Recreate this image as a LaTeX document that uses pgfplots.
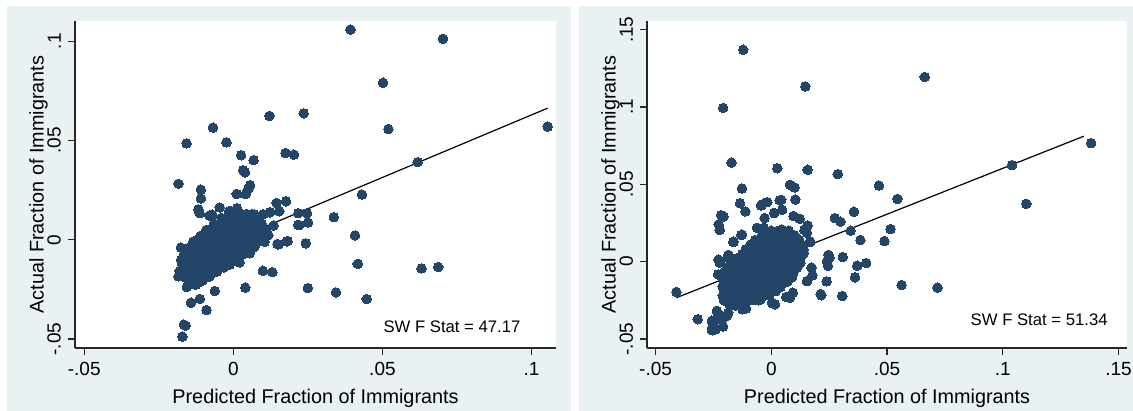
\documentclass[border=0pt]{standalone}
\usepackage{pgfplots}
\pgfplotsset{compat=1.18}
\usepackage{fontspec}
\setmainfont{Liberation Sans}
\definecolor{navyc}{RGB}{35,69,104}
\definecolor{bgc}{RGB}{233,241,243}
\pgfplotsset{stataaxis/.style={
  scale only axis,
  axis lines=left,
  axis line style={-, line width=0.6pt, black!85},
  tick style={line width=0.6pt, black!85},
  tick align=outside,
  major tick length=3.5pt,
  axis background/.style={fill=white},
  every tick label/.append style={font=\fontsize{9.5}{11}\selectfont},
  yticklabel style={rotate=90, anchor=south},
  label style={font=\fontsize{9.9}{12}\selectfont},
  xlabel={Predicted Fraction of Immigrants},
  ylabel={Actual Fraction of Immigrants},
  ylabel style={yshift=-7pt},
},
dots/.style={only marks, mark=*, mark size=2.4pt, mark options={fill=navyc, draw=navyc, line width=0pt}},
fitline/.style={no marks, black, line width=0.6pt}}
\begin{document}
\begin{tikzpicture}
\useasboundingbox (0,0) rectangle (566.5pt,205.5pt);
\fill[bgc] (3.5pt,0pt) rectangle (285.5pt,202.5pt);
\fill[bgc] (289.5pt,0pt) rectangle (566.5pt,202.5pt);
% ---------------- left panel
\begin{axis}[stataaxis, at={(37.5pt,31.5pt)}, anchor=south west,
  width=240.5pt, height=163.5pt,
  xmin=-0.0531, xmax=0.1082, ymin=-0.0545, ymax=0.1102,
  xtick={-0.05,0,0.05,0.1}, xticklabels={-.05,0,.05,.1},
  ytick={-0.05,0,0.05,0.1}, yticklabels={-.05,0,.05,.1}]
\addplot[dots] coordinates {
(0.0393,0.1058) (0.0703,0.1012) (0.0502,0.0791) (0.0520,0.0558) (0.1054,0.0570)
(0.0236,0.0637) (0.0121,0.0624) (-0.0068,0.0565) (-0.0157,0.0486) (-0.0023,0.0491)
(0.0026,0.0426) (0.0068,0.0401) (0.0175,0.0437) (0.0203,0.0429) (0.0618,0.0391)
(0.0033,0.0350) (0.0039,0.0340) (-0.0184,0.0282) (0.0056,0.0275) (0.0050,0.0255)
(0.0041,0.0230) (0.0011,0.0231) (-0.0109,0.0253) (-0.0109,0.0208) (0.0431,0.0228)
(0.0177,0.0194) (0.0145,0.0186) (-0.0046,0.0163) (-0.0117,0.0154) (-0.0113,0.0134)
(-0.0071,0.0126) (0.0337,0.0114) (0.0218,0.0134) (0.0247,0.0134) (0.0124,0.0139)
(0.0154,0.0144) (0.0101,0.0129) (0.0221,0.0074) (0.0250,0.0087) (0.0135,0.0072)
(0.0117,0.0023) (0.0101,0.0028) (0.0408,0.0022) (0.0151,-0.0023) (0.0182,-0.0007)
(0.0243,-0.0018) (0.0417,-0.0121) (0.0099,-0.0156) (0.0131,-0.0163) (0.0631,-0.0144)
(0.0687,-0.0137) (0.0250,-0.0243) (0.0344,-0.0265) (0.0447,-0.0298) (0.0040,-0.0241)
(-0.0062,-0.0258) (-0.0142,-0.0317) (-0.0112,-0.0298) (-0.0090,-0.0354) (-0.0166,-0.0427)
(-0.0160,-0.0432) (-0.0171,-0.0488) (-0.0184,-0.0184) (-0.0156,-0.0238) (-0.0176,-0.0039)
(-0.0170,-0.0092) (-0.0172,-0.0117) (-0.0126,-0.0226) (-0.0104,-0.0206) (-0.0068,-0.0164)
(-0.0032,-0.0139) (0.0021,-0.0114) (0.0048,-0.0040) (-0.0117,0.0005) (-0.0089,0.0050)
(-0.0015,0.0141) (0.0010,0.0141) (0.0063,0.0129) (-0.0080,0.0122) (-0.0010,0.0145)
(0.0070,0.0128) (0.0123,0.0138) (0.0217,0.0075) (0.0148,-0.0022) (0.0179,-0.0008)
(-0.0180,-0.0157) (-0.0166,-0.0165) (-0.0155,-0.0235) (0.0012,0.0159)
(-0.0140,-0.0220) (-0.0118,-0.0215)
(-0.0160,-0.0190) (-0.0140,-0.0188) (-0.0120,-0.0192) (-0.0100,-0.0190) (-0.0080,-0.0185)
(-0.0175,-0.0160) (-0.0155,-0.0162) (-0.0135,-0.0158) (-0.0115,-0.0160) (-0.0095,-0.0162) (-0.0075,-0.0158) (-0.0055,-0.0160)
(-0.0170,-0.0130) (-0.0150,-0.0132) (-0.0130,-0.0128) (-0.0110,-0.0130) (-0.0090,-0.0132) (-0.0070,-0.0128) (-0.0050,-0.0130) (-0.0030,-0.0132) (-0.0012,-0.0125)
(-0.0175,-0.0100) (-0.0155,-0.0102) (-0.0135,-0.0098) (-0.0115,-0.0100) (-0.0095,-0.0102) (-0.0075,-0.0098) (-0.0055,-0.0100) (-0.0035,-0.0102) (-0.0015,-0.0098) (0.0005,-0.0100) (0.0020,-0.0095)
(-0.0165,-0.0070) (-0.0145,-0.0072) (-0.0125,-0.0068) (-0.0105,-0.0070) (-0.0085,-0.0072) (-0.0065,-0.0068) (-0.0045,-0.0070) (-0.0025,-0.0072) (-0.0005,-0.0068) (0.0015,-0.0070) (0.0035,-0.0072) (0.0055,-0.0068)
(-0.0150,-0.0040) (-0.0130,-0.0042) (-0.0110,-0.0038) (-0.0090,-0.0040) (-0.0070,-0.0042) (-0.0050,-0.0038) (-0.0030,-0.0040) (-0.0010,-0.0042) (0.0010,-0.0038) (0.0030,-0.0040) (0.0050,-0.0042) (0.0070,-0.0038)
(-0.0135,-0.0010) (-0.0115,-0.0012) (-0.0095,-0.0008) (-0.0075,-0.0010) (-0.0055,-0.0012) (-0.0035,-0.0008) (-0.0015,-0.0010) (0.0005,-0.0012) (0.0025,-0.0008) (0.0045,-0.0010) (0.0065,-0.0012) (0.0085,-0.0008) (0.0105,-0.0010)
(-0.0110,0.0020) (-0.0090,0.0018) (-0.0070,0.0022) (-0.0050,0.0020) (-0.0030,0.0018) (-0.0010,0.0022) (0.0010,0.0020) (0.0030,0.0018) (0.0050,0.0022) (0.0070,0.0020) (0.0090,0.0018) (0.0110,0.0022)
(-0.0090,0.0050) (-0.0070,0.0048) (-0.0050,0.0052) (-0.0030,0.0050) (-0.0010,0.0048) (0.0010,0.0052) (0.0030,0.0050) (0.0050,0.0048) (0.0070,0.0052) (0.0090,0.0050) (0.0110,0.0048)
(-0.0065,0.0080) (-0.0045,0.0078) (-0.0025,0.0082) (-0.0005,0.0080) (0.0015,0.0078) (0.0035,0.0082) (0.0055,0.0080) (0.0075,0.0078) (0.0095,0.0082)
(-0.0040,0.0110) (-0.0020,0.0108) (0.0000,0.0112) (0.0020,0.0110) (0.0040,0.0108) (0.0060,0.0112) (0.0080,0.0110)
(-0.0005,0.0132) (0.0020,0.0135) (0.0045,0.0130)
};
\addplot[fitline] coordinates {(-0.0184,-0.0117) (0.1054,0.0663)};
\node[anchor=base east, font=\fontsize{8.35}{10}\selectfont, inner sep=0pt] at (axis cs:0.0964,-0.0468) {SW F Stat = 47.17};
\end{axis}
% ---------------- right panel
\begin{axis}[stataaxis, at={(323.5pt,31.5pt)}, anchor=south west,
  width=240pt, height=163.5pt,
  xmin=-0.0537, xmax=0.1537, ymin=-0.0558, ymax=0.1556,
  xtick={-0.05,0,0.05,0.1,0.15}, xticklabels={-.05,0,.05,.1,.15},
  ytick={-0.05,0,0.05,0.1,0.15}, yticklabels={-.05,0,.05,.1,.15}]
\addplot[dots] coordinates {
(-0.0121,0.1370) (0.0147,0.1133) (0.0663,0.1194) (-0.0208,0.0994) (-0.0172,0.0641)
(0.0026,0.0604) (0.0157,0.0594) (0.0287,0.0566) (0.0465,0.0492) (0.0545,0.0406)
(0.1040,0.0624) (0.1382,0.0766) (0.1102,0.0374) (-0.0127,0.0473) (-0.0135,0.0378)
(-0.0112,0.0325) (-0.0217,0.0301) (-0.0206,0.0292) (-0.0227,0.0241) (-0.0223,0.0204)
(-0.0164,0.0127) (-0.0130,0.0172) (-0.0045,0.0363) (-0.0017,0.0385) (0.0043,0.0400)
(0.0047,0.0335) (0.0012,0.0314) (-0.0029,0.0282) (0.0081,0.0497) (0.0101,0.0480)
(0.0104,0.0402) (0.0096,0.0295) (0.0123,0.0277) (0.0157,0.0234) (0.0143,0.0204)
(0.0275,0.0282) (0.0299,0.0258) (0.0357,0.0323) (0.0343,0.0200) (0.0385,0.0140)
(0.0515,0.0211) (0.0489,0.0133) (0.0168,0.0127) (0.0251,0.0026) (0.0309,0.0030)
(0.0245,-0.0028) (0.0371,-0.0026) (0.0410,-0.0009) (0.0362,-0.0101) (0.0563,-0.0151)
(0.0718,-0.0168) (0.0239,-0.0127) (0.0213,-0.0209) (0.0216,-0.0217) (0.0307,-0.0222)
(0.0174,-0.0039) (0.0178,-0.0088) (0.0155,-0.0125) (0.0064,-0.0228) (0.0093,-0.0200)
(0.0008,-0.0271) (0.0016,-0.0275) (-0.0047,-0.0243) (-0.0410,-0.0196) (-0.0318,-0.0372)
(-0.0256,-0.0443) (-0.0240,-0.0437) (-0.0209,-0.0419) (-0.0233,-0.0372) (-0.0209,-0.0355)
(-0.0186,-0.0329) (-0.0223,-0.0006) (-0.0189,0.0028) (-0.0230,-0.0082) (-0.0124,-0.0308)
(-0.0109,-0.0303) (-0.0040,0.0370) (0.0036,0.0397) (0.0013,0.0316) (-0.0163,0.0129)
(-0.0127,0.0175) (-0.0228,0.0013) (-0.0185,0.0044) (0.0247,0.0044) (0.0240,0.0001)
(0.0154,0.0186) (0.0168,0.0131) (0.0154,-0.0126) (0.0081,-0.0234) (0.0003,-0.0266)
(-0.0235,-0.0318) (-0.0257,-0.0382) (-0.0213,-0.0372) (-0.0192,-0.0351) (-0.0257,-0.0437)
(-0.0091,-0.0212) (-0.0062,0.0219) (-0.0033,0.0219) (0.0045,0.0208)
(-0.0180,-0.0280) (-0.0155,-0.0283) (-0.0130,-0.0278)
(-0.0205,-0.0250) (-0.0180,-0.0253) (-0.0155,-0.0248) (-0.0130,-0.0250) (-0.0105,-0.0253) (-0.0080,-0.0248) (-0.0055,-0.0250)
(-0.0210,-0.0220) (-0.0185,-0.0223) (-0.0160,-0.0218) (-0.0135,-0.0220) (-0.0110,-0.0223) (-0.0085,-0.0218) (-0.0060,-0.0220) (-0.0035,-0.0223) (-0.0010,-0.0218)
(-0.0205,-0.0190) (-0.0180,-0.0193) (-0.0155,-0.0188) (-0.0130,-0.0190) (-0.0105,-0.0193) (-0.0080,-0.0188) (-0.0055,-0.0190) (-0.0030,-0.0193) (-0.0005,-0.0188) (0.0020,-0.0190)
(-0.0210,-0.0160) (-0.0185,-0.0163) (-0.0160,-0.0158) (-0.0135,-0.0160) (-0.0110,-0.0163) (-0.0085,-0.0158) (-0.0060,-0.0160) (-0.0035,-0.0163) (-0.0010,-0.0158) (0.0015,-0.0160) (0.0040,-0.0163)
(-0.0205,-0.0130) (-0.0180,-0.0133) (-0.0155,-0.0128) (-0.0130,-0.0130) (-0.0105,-0.0133) (-0.0080,-0.0128) (-0.0055,-0.0130) (-0.0030,-0.0133) (-0.0005,-0.0128) (0.0020,-0.0130) (0.0045,-0.0133) (0.0070,-0.0128)
(-0.0210,-0.0100) (-0.0185,-0.0103) (-0.0160,-0.0098) (-0.0135,-0.0100) (-0.0110,-0.0103) (-0.0085,-0.0098) (-0.0060,-0.0100) (-0.0035,-0.0103) (-0.0010,-0.0098) (0.0015,-0.0100) (0.0040,-0.0103) (0.0065,-0.0098) (0.0090,-0.0100)
(-0.0205,-0.0070) (-0.0180,-0.0073) (-0.0155,-0.0068) (-0.0130,-0.0070) (-0.0105,-0.0073) (-0.0080,-0.0068) (-0.0055,-0.0070) (-0.0030,-0.0073) (-0.0005,-0.0068) (0.0020,-0.0070) (0.0045,-0.0073) (0.0070,-0.0068) (0.0095,-0.0070)
(-0.0190,-0.0040) (-0.0165,-0.0043) (-0.0140,-0.0038) (-0.0115,-0.0040) (-0.0090,-0.0043) (-0.0065,-0.0038) (-0.0040,-0.0040) (-0.0015,-0.0043) (0.0010,-0.0038) (0.0035,-0.0040) (0.0060,-0.0043) (0.0085,-0.0038) (0.0110,-0.0040)
(-0.0175,-0.0010) (-0.0150,-0.0013) (-0.0125,-0.0008) (-0.0100,-0.0010) (-0.0075,-0.0013) (-0.0050,-0.0008) (-0.0025,-0.0010) (0.0000,-0.0013) (0.0025,-0.0008) (0.0050,-0.0010) (0.0075,-0.0013) (0.0100,-0.0008) (0.0125,-0.0010)
(-0.0150,0.0020) (-0.0125,0.0017) (-0.0100,0.0022) (-0.0075,0.0020) (-0.0050,0.0017) (-0.0025,0.0022) (0.0000,0.0020) (0.0025,0.0017) (0.0050,0.0022) (0.0075,0.0020) (0.0100,0.0017) (0.0125,0.0022)
(-0.0125,0.0050) (-0.0100,0.0047) (-0.0075,0.0052) (-0.0050,0.0050) (-0.0025,0.0047) (0.0000,0.0052) (0.0025,0.0050) (0.0050,0.0047) (0.0075,0.0052) (0.0100,0.0050) (0.0125,0.0047) (0.0140,0.0055)
(-0.0110,0.0080) (-0.0085,0.0077) (-0.0060,0.0082) (-0.0035,0.0080) (-0.0010,0.0077) (0.0015,0.0082) (0.0040,0.0080) (0.0065,0.0077) (0.0090,0.0082) (0.0115,0.0080) (0.0140,0.0077)
(-0.0090,0.0110) (-0.0065,0.0107) (-0.0040,0.0112) (-0.0015,0.0110) (0.0010,0.0107) (0.0035,0.0112) (0.0060,0.0110) (0.0085,0.0107) (0.0110,0.0112) (0.0130,0.0110)
(-0.0070,0.0140) (-0.0045,0.0137) (-0.0020,0.0142) (0.0005,0.0140) (0.0030,0.0137) (0.0055,0.0142) (0.0080,0.0140) (0.0105,0.0137) (0.0120,0.0142)
(-0.0040,0.0170) (-0.0015,0.0167) (0.0010,0.0172) (0.0035,0.0170) (0.0060,0.0167) (0.0085,0.0172) (0.0100,0.0170)
(0.0000,0.0200) (0.0025,0.0197) (0.0050,0.0202) (0.0075,0.0200)
};
\addplot[fitline] coordinates {(-0.0410,-0.0233) (0.1350,0.0811)};
\node[anchor=base east, font=\fontsize{8.35}{10}\selectfont, inner sep=0pt] at (axis cs:0.1455,-0.0411) {SW F Stat = 51.34};
\end{axis}
\end{tikzpicture}
\end{document}
